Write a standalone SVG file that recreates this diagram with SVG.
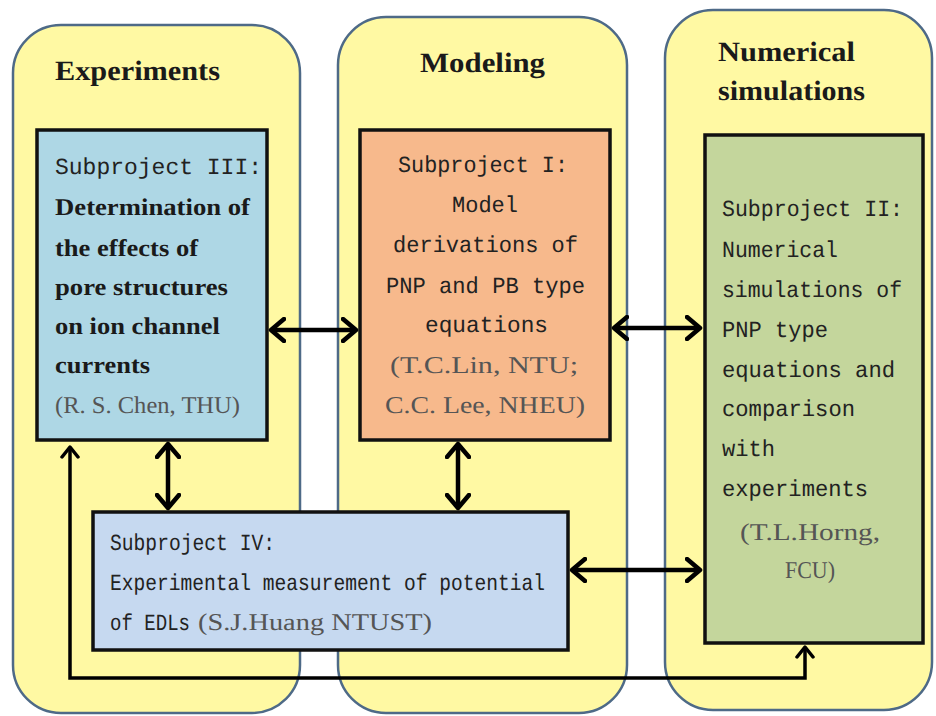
<svg xmlns="http://www.w3.org/2000/svg" width="936" height="716" viewBox="0 0 936 716">
<style>
.col{fill:#FFF9A3;stroke:#4E6A87;stroke-width:2.5}
.box{stroke:#111;stroke-width:3.5}
text{text-rendering:geometricPrecision}
.title{font-family:"Liberation Serif",serif;font-weight:bold;font-size:28px;fill:#1a1a1a}
.mono{font-family:"Liberation Mono",monospace;font-size:23px;fill:#222}
.bold{font-family:"Liberation Serif",serif;font-weight:bold;font-size:24px;fill:#1a1a1a}
.name{font-family:"Liberation Serif",serif;font-size:24px;fill:#555}
.conn{fill:none;stroke:#000;stroke-width:4.5}
.thin{fill:none;stroke:#000;stroke-width:3.5}
</style>
<defs>
<marker id="ah" markerUnits="userSpaceOnUse" viewBox="0 0 18 26" refX="15" refY="13" markerWidth="18" markerHeight="26" orient="auto-start-reverse">
<path d="M2,2 L15,13 L2,24" fill="none" stroke="#000" stroke-width="4.5" stroke-linecap="round" stroke-linejoin="round"/>
</marker>
<marker id="ahs" markerUnits="userSpaceOnUse" viewBox="0 0 14 20" refX="12" refY="10" markerWidth="14" markerHeight="20" orient="auto-start-reverse">
<path d="M2,2 L12,10 L2,18" fill="none" stroke="#000" stroke-width="3.5" stroke-linecap="round" stroke-linejoin="round"/>
</marker>
</defs>
<rect width="936" height="716" fill="#fff"/>

<g id="col-experiments">
<rect class="col" x="13" y="25" width="287" height="688" rx="48"/>
<text class="title" x="55" y="80" textLength="165" lengthAdjust="spacingAndGlyphs">Experiments</text>
</g>
<g id="col-modeling">
<rect class="col" x="338" y="17" width="289" height="696" rx="48"/>
<text class="title" x="420" y="72" textLength="125" lengthAdjust="spacingAndGlyphs">Modeling</text>
</g>
<g id="col-numerical">
<rect class="col" x="665" y="10" width="267" height="700" rx="48"/>
<text class="title" x="718" y="61" textLength="137" lengthAdjust="spacingAndGlyphs">Numerical</text>
<text class="title" x="718" y="100" textLength="147" lengthAdjust="spacingAndGlyphs">simulations</text>
</g>

<g id="sub3">
<rect class="box" x="37" y="130" width="230" height="310" fill="#AED7E5"/>
<text class="mono" x="55" y="174" textLength="207" lengthAdjust="spacingAndGlyphs">Subproject III:</text>
<text class="bold" x="55" y="215" textLength="195" lengthAdjust="spacingAndGlyphs">Determination of</text>
<text class="bold" x="55" y="256" textLength="143" lengthAdjust="spacingAndGlyphs">the effects of</text>
<text class="bold" x="55" y="295" textLength="173" lengthAdjust="spacingAndGlyphs">pore structures</text>
<text class="bold" x="55" y="334" textLength="165" lengthAdjust="spacingAndGlyphs">on ion channel</text>
<text class="bold" x="55" y="373" textLength="95" lengthAdjust="spacingAndGlyphs">currents</text>
<text class="name" x="55" y="413" textLength="185" lengthAdjust="spacingAndGlyphs">(R. S. Chen, THU)</text>
</g>

<g id="sub1">
<rect class="box" x="360" y="130" width="250" height="310" fill="#F7B98C"/>
<text class="mono" x="398" y="172" textLength="170" lengthAdjust="spacingAndGlyphs">Subproject I:</text>
<text class="mono" x="452" y="212" textLength="66" lengthAdjust="spacingAndGlyphs">Model</text>
<text class="mono" x="393" y="252" textLength="185" lengthAdjust="spacingAndGlyphs">derivations of</text>
<text class="mono" x="386" y="293" textLength="199" lengthAdjust="spacingAndGlyphs">PNP and PB type</text>
<text class="mono" x="425" y="332" textLength="123" lengthAdjust="spacingAndGlyphs">equations</text>
<text class="name" x="390" y="373" textLength="188" lengthAdjust="spacingAndGlyphs">(T.C.Lin, NTU;</text>
<text class="name" x="385" y="413" textLength="200" lengthAdjust="spacingAndGlyphs">C.C. Lee, NHEU)</text>
</g>

<g id="sub2">
<rect class="box" x="705" y="135" width="218" height="508" fill="#C4D69C"/>
<text class="mono" x="722" y="216" textLength="181" lengthAdjust="spacingAndGlyphs">Subproject II:</text>
<text class="mono" x="722" y="257" textLength="116" lengthAdjust="spacingAndGlyphs">Numerical</text>
<text class="mono" x="722" y="297" textLength="180" lengthAdjust="spacingAndGlyphs">simulations of</text>
<text class="mono" x="722" y="337" textLength="106" lengthAdjust="spacingAndGlyphs">PNP type</text>
<text class="mono" x="722" y="377" textLength="173" lengthAdjust="spacingAndGlyphs">equations and</text>
<text class="mono" x="722" y="416" textLength="133" lengthAdjust="spacingAndGlyphs">comparison</text>
<text class="mono" x="722" y="456" textLength="53" lengthAdjust="spacingAndGlyphs">with</text>
<text class="mono" x="722" y="496" textLength="146" lengthAdjust="spacingAndGlyphs">experiments</text>
<text class="name" x="740" y="540" textLength="140" lengthAdjust="spacingAndGlyphs">(T.L.Horng,</text>
<text class="name" x="785" y="578" textLength="50" lengthAdjust="spacingAndGlyphs">FCU)</text>
</g>

<g id="connectors">
<path class="thin" d="M70,447 L70,678 L805,678 L805,647" marker-start="url(#ahs)" marker-end="url(#ahs)"/>
<line class="conn" x1="271" y1="330" x2="356" y2="330" marker-start="url(#ah)" marker-end="url(#ah)"/>
<line class="conn" x1="614" y1="328" x2="700" y2="328" marker-start="url(#ah)" marker-end="url(#ah)"/>
<line class="conn" x1="168" y1="444" x2="168" y2="508" marker-start="url(#ah)" marker-end="url(#ah)"/>
<line class="conn" x1="458" y1="444" x2="458" y2="508" marker-start="url(#ah)" marker-end="url(#ah)"/>
<line class="conn" x1="572" y1="570" x2="700" y2="570" marker-start="url(#ah)" marker-end="url(#ah)"/>
</g>

<g id="sub4">
<rect class="box" x="93" y="512" width="475" height="138" fill="#C6D9F0"/>
<text class="mono" x="110" y="550" textLength="165" lengthAdjust="spacingAndGlyphs">Subproject IV:</text>
<text class="mono" x="110" y="590" textLength="435" lengthAdjust="spacingAndGlyphs">Experimental measurement of potential</text>
<text class="mono" x="110" y="630" textLength="80" lengthAdjust="spacingAndGlyphs">of EDLs</text>
<text class="name" x="198" y="630" textLength="234" lengthAdjust="spacingAndGlyphs">(S.J.Huang NTUST)</text>
</g>
</svg>
